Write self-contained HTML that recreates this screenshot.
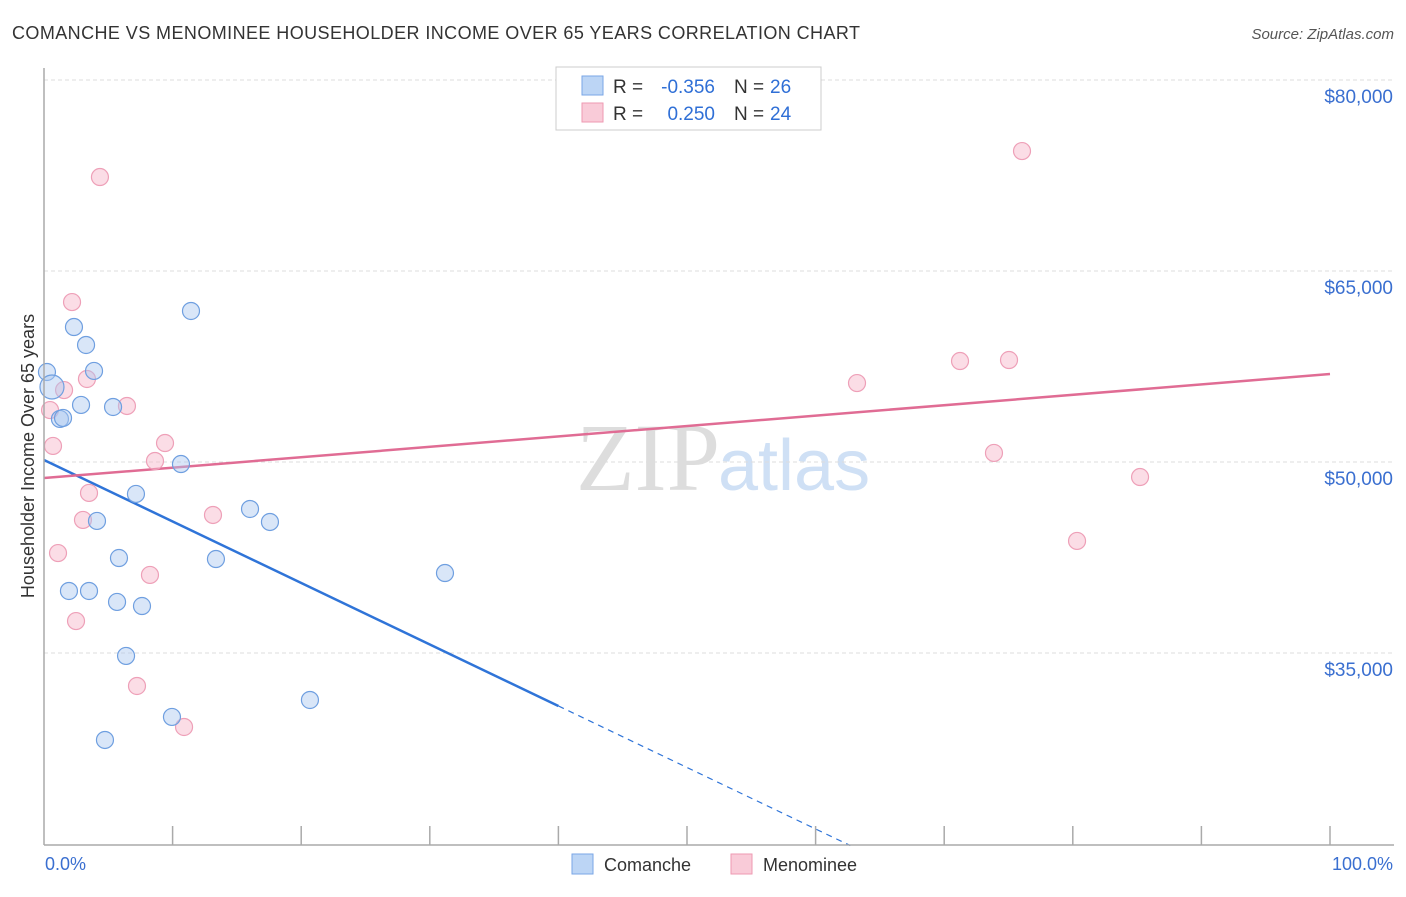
<!DOCTYPE html>
<html><head><meta charset="utf-8"><style>
body{margin:0;background:#fff;font-family:"Liberation Sans",sans-serif}
</style></head><body>
<svg width="1406" height="892" xmlns="http://www.w3.org/2000/svg" id="c">
<text x="12" y="39" font-size="18" fill="#333" textLength="848">COMANCHE VS MENOMINEE HOUSEHOLDER INCOME OVER 65 YEARS CORRELATION CHART</text>
<text x="1394" y="39" font-size="15" fill="#555" font-style="italic" text-anchor="end">Source: ZipAtlas.com</text>
<text x="720" y="490" font-size="96" fill="#ddd" text-anchor="end" font-family="Liberation Serif">ZIP</text>
<text x="718" y="490" font-size="72" fill="#cfe0f5">atlas</text>
<text transform="translate(34,456) rotate(-90)" font-size="18" fill="#333" text-anchor="middle">Householder Income Over 65 years</text>
<g id="grid"></g><g id="lines"></g><g id="pts"></g>
<line x1="44" y1="68" x2="44" y2="845" stroke="#aaa" stroke-width="1.5"/>
<line x1="44" y1="845" x2="1394" y2="845" stroke="#aaa" stroke-width="1.5"/>
<text x="45" y="870" font-size="18" fill="#3a6fd0">0.0%</text>
<text x="1393" y="870" font-size="18" fill="#3a6fd0" text-anchor="end">100.0%</text>
<g>
<rect x="556" y="67" width="265" height="63" fill="#fff" stroke="#ccc"/>
<rect x="582" y="76" width="21" height="19" fill="#bcd5f5" stroke="#7aa6e6"/>
<rect x="582" y="103" width="21" height="19" fill="#f9cbd8" stroke="#ee9ab2"/>
<text x="613" y="93" font-size="19" fill="#333">R =</text>
<text x="715" y="93" font-size="19" fill="#2f6fd6" text-anchor="end">-0.356</text>
<text x="734" y="93" font-size="19" fill="#333">N =</text>
<text x="770" y="93" font-size="19" fill="#2f6fd6">26</text>
<text x="613" y="120" font-size="19" fill="#333">R =</text>
<text x="715" y="120" font-size="19" fill="#2f6fd6" text-anchor="end">0.250</text>
<text x="734" y="120" font-size="19" fill="#333">N =</text>
<text x="770" y="120" font-size="19" fill="#2f6fd6">24</text>
</g>
<g>
<rect x="572" y="854" width="21" height="20" fill="#bcd5f5" stroke="#7aa6e6"/>
<text x="604" y="871" font-size="18" fill="#333">Comanche</text>
<rect x="731" y="854" width="21" height="20" fill="#f9cbd8" stroke="#ee9ab2"/>
<text x="763" y="871" font-size="18" fill="#333">Menominee</text>
</g>
</svg>
<script>
const yTicks=[80000,65000,50000,35000];
const yTickLabels=["$80,000","$65,000","$50,000","$35,000"];
const xTicks=[10,20,30,40,50,60,70,80,90,100];
const comancheX=[0.23,0.62,2.33,3.27,3.89,2.88,5.37,1.24,1.48,11.43,10.65,7.15,4.12,16.02,17.57,5.83,13.37,1.94,3.5,5.68,7.62,31.18,6.38,20.68,9.95,4.74];
const comancheY=[57068,55890,60600,59190,57150,54480,54320,53380,53460,61860,49840,47490,45370,46310,45290,42460,42380,39870,39870,39010,38690,41280,34770,31310,29980,28170];
const menomineeX=[4.35,2.18,3.34,1.56,6.45,0.47,0.7,9.41,8.63,3.5,3.03,13.14,1.09,8.24,2.49,7.23,10.89,76.05,63.22,71.23,75.04,73.87,85.23,80.33];
const menomineeY=[72380,62560,56520,55650,54400,54080,51260,51490,50080,47570,45450,45840,42850,41130,37510,32410,29190,74420,56200,57930,58010,50710,48820,43800];
const comancheTrend=[50160,-483];
const menomineeTrend=[48740,81.7];
const sx=p=>44+p*12.86;
const sy=v=>462-(v-50000)*191/15000;
const NS="http://www.w3.org/2000/svg";
function mk(t,a,parent){const e=document.createElementNS(NS,t);for(const k in a)e.setAttribute(k,a[k]);document.getElementById(parent).appendChild(e);return e;}
yTicks.forEach((v,i)=>{
 const l=mk('line',{x1:44,x2:1394,y1:sy(v),y2:sy(v),stroke:'#ddd','stroke-dasharray':'4,3'},'grid');
 
 
 const t=mk('text',{x:1393,y:sy(v)+23,'font-size':19,fill:'#3a6fd0','text-anchor':'end'},'grid');
 t.textContent=yTickLabels[i];
 
 
});
xTicks.forEach(p=>{
 const l=mk('line',{x1:sx(p),x2:sx(p),y1:826,y2:845,stroke:'#aaa','stroke-width':1.5},'grid');
 
 
});
const cf=p=>comancheTrend[0]+comancheTrend[1]*p;
let l1=mk('line',{x1:sx(0),y1:sy(cf(0)),x2:sx(40),y2:sy(cf(40)),stroke:'#2f74d8','stroke-width':2.5},'lines');


let l2=mk('line',{x1:sx(40),y1:sy(cf(40)),x2:sx(62.7),y2:sy(cf(62.7)),stroke:'#2f74d8','stroke-width':1.2,'stroke-dasharray':'6,5'},'lines');


const mf=p=>menomineeTrend[0]+menomineeTrend[1]*p;
let l3=mk('line',{x1:sx(0),y1:sy(mf(0)),x2:sx(100),y2:sy(mf(100)),stroke:'#e06c94','stroke-width':2.5},'lines');


menomineeX.forEach((p,i)=>{
 const c=mk('circle',{cx:sx(p),cy:sy(menomineeY[i]),r:8.5,fill:'rgba(246,180,200,0.45)',stroke:'#eea0b8','stroke-width':1.2},'pts');
 
 
});
comancheX.forEach((p,i)=>{
 const c=mk('circle',{cx:sx(p),cy:sy(comancheY[i]),r:i==1?12:8.5,fill:'rgba(170,200,240,0.45)',stroke:'#6f9fe0','stroke-width':1.2},'pts');
 
 
});
</script>
</body></html>
